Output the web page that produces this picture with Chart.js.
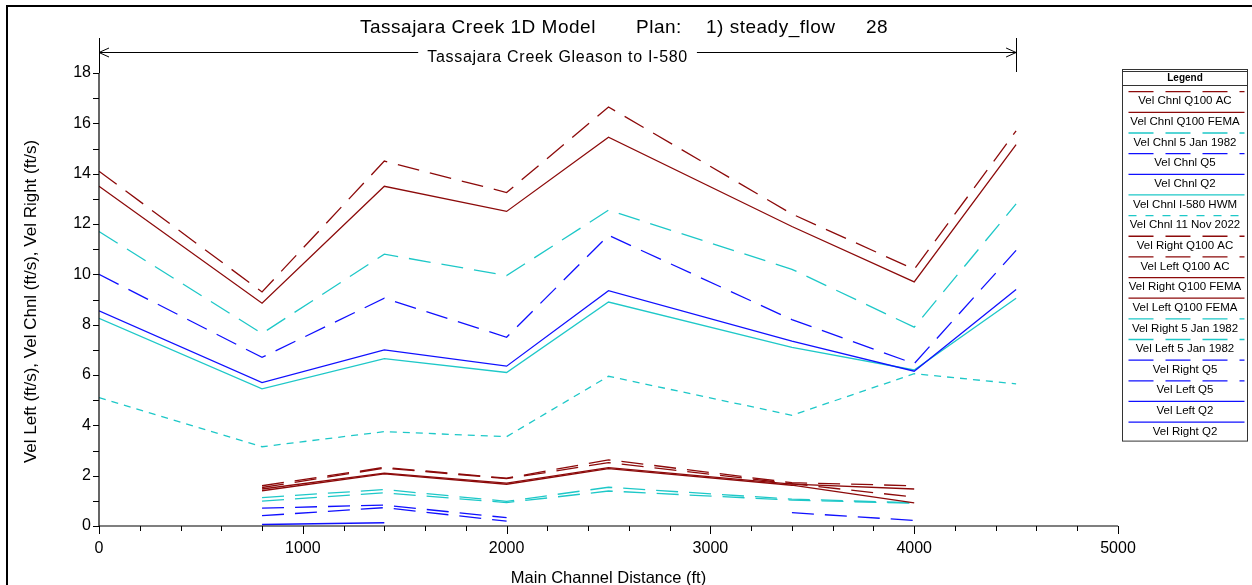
<!DOCTYPE html>
<html>
<head>
<meta charset="utf-8">
<script src="https://cdn.jsdelivr.net/npm/chart.js@4.4.1/dist/chart.umd.min.js"></script>
<style>
  html, body { margin: 0; padding: 0; background: #fff; }
  #wrap { width: 1252px; height: 585px; }
</style>
</head>
<body>
<div id="wrap"><canvas id="profile" width="1252" height="585"></canvas></div>
<script>
// river stations along the main channel (ft)
const stations = [0, 800, 1400, 2000, 2500, 3400, 4000, 4500]

// channel velocities (ft/s)
const chnlQ100AC = [14.1, 9.3, 14.5, 13.25, 16.65, 12.4, 10.2, 15.7]
const chnlQ100FEMA = [13.5, 8.85, 13.5, 12.5, 15.45, 11.9, 9.7, 15.15]
const chnlJan1982 = [11.7, 7.65, 10.8, 9.95, 12.55, 10.2, 7.9, 12.8]
const chnlQ5 = [10.0, 6.7, 9.05, 7.5, 11.55, 8.2, 6.45, 10.95]
const chnlQ2 = [8.55, 5.7, 7.0, 6.35, 9.35, 7.35, 6.15, 9.4]
const chnlHWM = [8.25, 5.45, 6.65, 6.1, 8.9, 7.1, 6.2, 9.05]
const chnlNov2022 = [5.1, 3.15, 3.75, 3.55, 5.95, 4.4, 6.05, 5.65]

// overbank velocities (ft/s), null where the bank is dry
const rightQ100AC = [null, 1.6, 2.33, 1.9, 2.63, 1.72, 1.6, null]
const leftQ100AC = [null, 1.53, 2.3, 1.88, 2.52, 1.68, 1.15, null]
const rightQ100FEMA = [null, 1.47, 2.1, 1.7, 2.32, 1.66, 1.47, null]
const leftQ100FEMA = [null, 1.4, 2.07, 1.66, 2.28, 1.62, 0.92, null]
const rightJan1982 = [null, 1.13, 1.45, 0.98, 1.54, 1.07, 0.92, null]
const leftJan1982 = [null, 0.99, 1.32, 0.93, 1.39, 1.03, 0.9, null]
const rightQ5 = [null, 0.71, 0.83, 0.33, null, 0.53, 0.22, null]
const leftQ5 = [null, 0.41, 0.73, 0.19, null, null, null, null]
const leftQ2 = [null, 0.06, 0.13, null, null, null, null, null]
const rightQ2 = [null, null, null, null, null, null, null, null]

const RED = '#8c0a0a'
const CYAN = '#1ec8c8'
const BLUE = '#1010ff'
const LONG = [22, 11]
const SHORT = [7, 6]
const FONT = '"Liberation Sans", Arial, sans-serif'

const pts = vals => stations.map((s, i) => ({ x: s, y: vals[i] }))

const series = (label, vals, color, dash) => ({
  label,
  data: pts(vals),
  borderColor: color,
  borderDash: dash,
  borderWidth: 1.3,
  pointRadius: 0,
  fill: false,
  spanGaps: false,
  tension: 0
})

const datasets = [
  series('Vel Chnl Q100 AC', chnlQ100AC, RED, LONG),
  series('Vel Chnl Q100 FEMA', chnlQ100FEMA, RED, []),
  series('Vel Chnl 5 Jan 1982', chnlJan1982, CYAN, LONG),
  series('Vel Chnl Q5', chnlQ5, BLUE, LONG),
  series('Vel Chnl Q2', chnlQ2, BLUE, []),
  series('Vel Chnl I-580 HWM', chnlHWM, CYAN, []),
  series('Vel Chnl 11 Nov 2022', chnlNov2022, CYAN, SHORT),
  series('Vel Right Q100 AC', rightQ100AC, RED, LONG),
  series('Vel Left Q100 AC', leftQ100AC, RED, LONG),
  series('Vel Right Q100 FEMA', rightQ100FEMA, RED, []),
  series('Vel Left Q100 FEMA', leftQ100FEMA, RED, []),
  series('Vel Right 5 Jan 1982', rightJan1982, CYAN, LONG),
  series('Vel Left 5 Jan 1982', leftJan1982, CYAN, LONG),
  series('Vel Right Q5', rightQ5, BLUE, LONG),
  series('Vel Left Q5', leftQ5, BLUE, LONG),
  series('Vel Left Q2', leftQ2, BLUE, []),
  series('Vel Right Q2', rightQ2, BLUE, [])
]

// axes, ticks, titles, reach marker and the boxed legend
const decor = {
  id: 'decor',
  afterDraw (chart) {
    const { ctx } = chart
    const xs = chart.scales.x
    const ys = chart.scales.y
    const x0 = xs.getPixelForValue(0)
    const x5 = xs.getPixelForValue(5000)
    const y0 = ys.getPixelForValue(0)
    const y18 = ys.getPixelForValue(18)

    ctx.save()
    ctx.strokeStyle = '#000'
    ctx.fillStyle = '#000'

    // outer frame
    ctx.lineWidth = 2
    ctx.beginPath()
    ctx.moveTo(7, 585)
    ctx.lineTo(7, 6)
    ctx.lineTo(1252, 6)
    ctx.stroke()

    // axis lines
    ctx.lineWidth = 1.2
    ctx.beginPath()
    ctx.moveTo(x0, y18)
    ctx.lineTo(x0, y0)
    ctx.lineTo(x5, y0)
    ctx.stroke()

    ctx.lineWidth = 1
    ctx.beginPath()
    for (let v = 0; v <= 18; v++) {
      const py = Math.round(ys.getPixelForValue(v)) + 0.5
      ctx.moveTo(x0, py)
      ctx.lineTo(x0 - 6, py)
    }
    for (let v = 0; v <= 5000; v += 200) {
      const px = Math.round(xs.getPixelForValue(v)) + 0.5
      ctx.moveTo(px, y0)
      ctx.lineTo(px, y0 + (v % 1000 === 0 ? 8 : 5))
    }
    ctx.stroke()

    // title
    ctx.font = '19px ' + FONT
    ctx.letterSpacing = '0.5px'
    ctx.textBaseline = 'middle'
    ctx.textAlign = 'left'
    ctx.fillText('Tassajara Creek 1D Model', 360, 28)
    ctx.fillText('Plan:', 636, 28)
    ctx.fillText('1) steady_flow', 706, 28)
    ctx.fillText('28', 866, 28)

    // reach marker with arrows
    const xr = xs.getPixelForValue(4500)
    const ya = 52
    const reach = 'Tassajara Creek Gleason to I-580'
    ctx.font = '16px ' + FONT
    ctx.letterSpacing = '0.7px'
    ctx.textAlign = 'center'
    const mid = (x0 + xr) / 2
    const half = ctx.measureText(reach).width / 2 + 9
    ctx.fillText(reach, mid, 58)
    ctx.letterSpacing = '0px'
    ctx.lineWidth = 1
    ctx.beginPath()
    ctx.moveTo(x0, ya + 0.5); ctx.lineTo(mid - half, ya + 0.5)
    ctx.moveTo(mid + half, ya + 0.5); ctx.lineTo(xr, ya + 0.5)
    ctx.moveTo(x0 + 10, ya - 4); ctx.lineTo(x0, ya + 0.5); ctx.lineTo(x0 + 10, ya + 5)
    ctx.moveTo(xr - 10, ya - 4); ctx.lineTo(xr, ya + 0.5); ctx.lineTo(xr - 10, ya + 5)
    ctx.moveTo(Math.round(x0) + 0.5, 38); ctx.lineTo(Math.round(x0) + 0.5, y18)
    ctx.moveTo(Math.round(xr) + 0.5, 38); ctx.lineTo(Math.round(xr) + 0.5, 72)
    ctx.stroke()

    // axis titles
    ctx.font = '16.5px ' + FONT
    ctx.fillText('Main Channel Distance (ft)', (x0 + x5) / 2, 578)
    ctx.save()
    ctx.font = '17px ' + FONT
    ctx.translate(31, (y0 + y18) / 2 + 2)
    ctx.rotate(-Math.PI / 2)
    ctx.fillText('Vel Left (ft/s), Vel Chnl (ft/s), Vel Right (ft/s)', 0, 0)
    ctx.restore()

    // legend box
    const lx = 1122.5
    const lw = 125
    const top = 69.5
    const pitch = 20.65
    const n = chart.data.datasets.length
    const bottom = 91.7 + pitch * (n - 1) + 19
    ctx.lineWidth = 1
    ctx.strokeStyle = '#333'
    ctx.strokeRect(lx, top, lw, bottom - top)
    ctx.beginPath()
    ctx.moveTo(lx, top + 2); ctx.lineTo(lx + lw, top + 2)
    ctx.moveTo(lx, 85.5); ctx.lineTo(lx + lw, 85.5)
    ctx.stroke()
    ctx.font = 'bold 10px ' + FONT
    ctx.fillStyle = '#000'
    ctx.fillText('Legend', lx + lw / 2, 78)

    ctx.font = '11.5px ' + FONT
    chart.data.datasets.forEach((ds, i) => {
      const sy = 91.7 + pitch * i
      ctx.strokeStyle = ds.borderColor
      ctx.lineWidth = 1.3
      ctx.setLineDash(ds.borderDash.length ? (ds.borderDash === SHORT ? [8, 9] : [25, 12]) : [])
      ctx.beginPath()
      ctx.moveTo(lx + 6, sy)
      ctx.lineTo(lx + lw - 3, sy)
      ctx.stroke()
      ctx.setLineDash([])
      ctx.fillStyle = '#000'
      ctx.fillText(ds.label, lx + lw / 2, sy + 9.5)
    })
    ctx.restore()
  }
}

new Chart(document.getElementById('profile'), {
  type: 'line',
  data: { datasets },
  options: {
    responsive: false,
    animation: false,
    devicePixelRatio: 1,
    layout: { padding: { left: 0, top: 73, right: 134, bottom: 0 } },
    plugins: {
      legend: { display: false },
      title: { display: false },
      tooltip: { enabled: false }
    },
    scales: {
      x: {
        type: 'linear',
        min: 0,
        max: 5000,
        grid: { display: false, drawTicks: false },
        border: { display: false },
        ticks: {
          stepSize: 1000,
          padding: 13,
          color: '#000',
          maxRotation: 0,
          font: { family: FONT, size: 16 },
          callback: v => String(v)
        },
        afterFit: s => { s.height = 59 }
      },
      y: {
        min: 0,
        max: 18,
        grid: { display: false, drawTicks: false },
        border: { display: false },
        ticks: {
          stepSize: 2,
          padding: 8,
          color: '#000',
          font: { family: FONT, size: 16 }
        },
        afterFit: s => { s.width = 99 }
      }
    }
  },
  plugins: [decor]
})
</script>
</body>
</html>
